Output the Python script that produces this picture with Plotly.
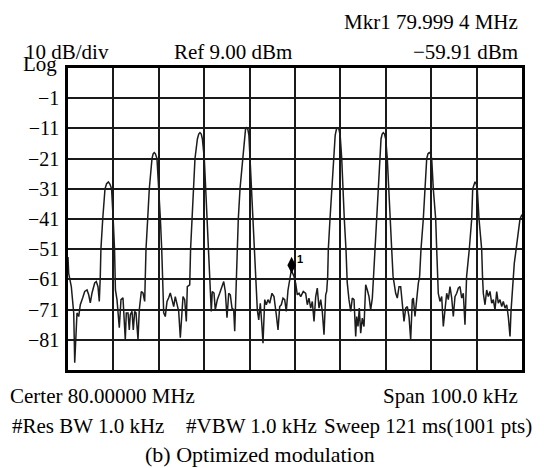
import plotly.graph_objects as go

# Frequency offset from centre (kHz) and level (dBm)
trace_freq_khz = [
    -50.0, -49.85, -49.27, -48.74, -48.52, -48.24, -48.02, -47.64, -47.29, -46.76,
    -46.32, -45.81, -45.44, -45.09, -44.71, -44.12, -43.77, -43.39, -43.11, -42.89,
    -42.75, -42.35, -41.85, -41.5, -41.1, -40.75, -40.4, -40.05, -39.75, -39.55,
    -39.21, -38.70, -38.33, -37.89, -37.60, -37.38, -37.16, -36.78, -36.50, -36.28,
    -35.90, -35.62, -35.31, -35.02, -34.58, -34.30, -33.85, -33.48, -33.11,
    -32.95, -32.82, -32.45, -32.09, -31.5, -31.25, -31.0, -30.75, -30.4, -29.96,
    -29.65, -29.36, -29.1,
    -28.92, -28.57, -28.19, -27.82, -27.47, -27.09, -26.72, -26.37, -26.0, -25.62,
    -25.26, -25.04, -24.67, -24.30, -23.94, -23.72, -23.19,
    -23.0, -22.7, -22.4, -22.03, -21.5, -21.2, -20.93, -20.65, -20.4, -19.98, -19.67,
    -19.4, -19.1, -18.8,
    -18.44, -18.22, -17.84, -17.56, -17.11, -16.59, -16.08, -15.70, -15.35, -14.98,
    -14.60, -14.25, -13.88, -13.50, -13.28, -12.93,
    -12.84, -12.49, -12.11, -11.52, -11.15, -10.9, -10.64, -10.38, -10.15, -9.91,
    -9.54, -9.19, -8.81, -8.6,
    -8.30, -7.99, -7.64, -7.27, -7.05, -6.67, -6.32, -5.95, -5.57, -5.07,
    -4.63, -4.12, -3.74, -3.37, -3.02, -2.64, -2.27, -1.92, -1.54, -1.17,
    -0.81, -0.22, 0.15, 0.51, 0.88, 1.26, 1.83, 2.36, 2.71, 3.08,
    3.46, 3.81, 4.19, 4.56, 4.91, 5.29, 5.66, 6.01, 6.39, 6.76, 6.98,
    7.2, 7.34, 7.71, 8.08, 8.44, 8.85, 9.12, 9.41, 9.68, 9.95, 10.29, 10.51, 10.86,
    11.23, 11.5,
    11.89, 12.27, 12.62, 13.00, 13.37, 13.59, 13.88, 14.16, 14.47, 14.82,
    15.20, 15.57, 15.93, 16.30, 16.67, 17.03,
    17.3, 17.62, 17.99, 18.35, 18.72, 18.95, 19.2, 19.45, 19.72, 19.98, 20.33, 20.7,
    20.93, 21.3, 21.6,
    22.18, 22.53, 22.91, 23.28, 23.63, 24.01, 24.38, 24.74, 25.11, 25.48,
    25.84, 26.06, 26.43, 26.81, 27.16,
    27.45, 27.75, 28.26, 28.63, 29.01, 29.3, 29.58, 29.85, 30.11, 30.46, 30.99, 31.21, 31.4,
    31.56, 31.94, 32.31, 32.67, 33.04, 33.41, 33.77, 34.14, 34.52, 34.87,
    35.24, 35.62, 35.97, 36.34, 36.72, 37.07, 37.44,
    37.8, 38.39, 38.92, 39.14, 39.4, 39.65, 39.9, 40.15, 40.53, 41.12, 41.3,
    41.48, 41.85, 42.22, 42.58, 42.95, 43.33, 43.68, 44.05, 44.43, 44.78,
    45.15, 45.53, 45.88, 46.26, 46.63, 46.98, 47.36, 47.58, 47.95, 48.30,
    48.68, 49.1, 49.56, 50.0,
]
trace_level_dbm = [
    -53.6, -59.0, -63.4, -72.1, -88.6, -81.0, -72.1, -73.3, -69.4, -67.1,
    -65.0, -64.5, -66.1, -68.8, -65.5, -62.2, -61.7, -63.4, -68.3, -60.1,
    -51, -41, -31, -29.3, -28.7, -29.5, -31, -41, -51, -64.5,
    -67.7, -77.0, -67.7, -67.1, -73.3, -81.0, -72.1, -72.1, -77.7, -72.7,
    -71.6, -77.7, -71.6, -72.1, -81.0, -71.1, -65.0, -65.5, -68.3,
    -60, -51, -41, -31, -21, -19.4, -19, -19.4, -21, -31,
    -41, -51, -66,
    -72.1, -73.3, -68.3, -67.1, -65.5, -67.7, -70.0, -66.7, -68.8, -71.6,
    -80.3, -73.3, -66.7, -67.7, -74.9, -63.4, -62.8,
    -51, -41, -31, -21, -14.5, -12.9, -12.4, -12.9, -14.5, -21, -31,
    -41, -51, -62,
    -71.6, -65.0, -65.5, -71.1, -67.7, -65.6, -63.4, -61.7, -65.0, -73.7,
    -65.6, -66.1, -70.5, -71.1, -78.2, -62.3,
    -51, -41, -31, -21, -13.3, -11.3, -10.8, -11.3, -13.3, -21,
    -31, -41, -51, -62,
    -71.1, -74.4, -68.9, -76.6, -82.1, -67.7, -69.4, -67.7, -68.9, -65.6,
    -66.7, -72.7, -77.7, -70.0, -69.4, -67.2, -67.7, -71.6, -64.5, -61.2,
    -57.9, -60.0, -62.3, -66.1, -65.6, -66.7, -65.0, -65.6, -69.4, -67.2,
    -70.5, -68.3, -74.9, -66.7, -63.9, -70.5, -67.7, -71.6, -79.3, -66.1, -65.0,
    -60, -51, -41, -31, -21, -13.3, -11.3, -10.8, -11.3, -13.3, -21, -31, -41,
    -51, -62,
    -67.7, -71.6, -67.2, -67.7, -79.9, -73.3, -76.6, -70.5, -78.8, -73.8,
    -76.6, -62.8, -64.5, -66.7, -71.1, -67.2,
    -60, -51, -41, -31, -21, -14.5, -12.9, -12.4, -12.9, -14.5, -21, -31,
    -41, -51, -60,
    -65.6, -67.2, -63.4, -63.4, -68.9, -74.9, -70.5, -70.0, -73.3, -81.0,
    -67.7, -67.2, -73.3, -67.2, -62.3,
    -60, -51, -41, -31, -21, -19.4, -19, -19.4, -21, -31, -41, -51, -60,
    -65.6, -68.3, -66.7, -76.6, -70.0, -65.6, -67.7, -63.4, -67.2, -73.3,
    -66.7, -65.6, -63.9, -63.4, -67.2, -65.6, -76.0,
    -60, -51, -41, -31, -29.3, -28.7, -29.3, -31, -41, -51, -60,
    -65.6, -69.4, -64.5, -66.7, -65.0, -68.9, -67.7, -71.1, -65.0, -68.9,
    -67.7, -70.0, -68.3, -70.5, -69.4, -73.3, -79.9, -71.6, -61.2, -55.7,
    -51.3, -46, -41, -39.5,
]

# Marker 1 (drawn position on screen)
marker_freq_khz = [-0.75]
marker_level_dbm = [-56.3]
marker_label = "1"

# Axis definitions
x_grid_khz = [-40, -30, -20, -10, 0, 10, 20, 30, 40]
y_tick_vals = [-1, -11, -21, -31, -41, -51, -61, -71, -81]
y_tick_text = ["\u22121", "\u221211", "\u221221", "\u221231", "\u221241",
               "\u221251", "\u221261", "\u221271", "\u221281"]
x_range = [-50, 50]
y_range = [-91, 9]

# Header / footer texts
mkr_text = "Mkr1 79.999 4 MHz"
scale_text = "10 dB/div"
log_text = "Log"
ref_text = "Ref 9.00 dBm"
mkr_level_text = "\u221259.91 dBm"
center_text = "Certer 80.00000 MHz"
span_text = "Span 100.0 kHz"
rbw_text = "#Res BW 1.0 kHz"
vbw_text = "#VBW 1.0 kHz"
sweep_text = "Sweep 121 ms(1001 pts)"
caption_text = "(b) Optimized modulation"

W, H = 549, 468
L, R, T, B = 68, 522, 67.5, 370.5
FONT = "Liberation Serif"


def px(xp):
    return (xp - L) / (R - L)


def py(yp):
    return (B - yp) / (B - T)


fig = go.Figure()
fig.add_trace(go.Scatter(
    x=trace_freq_khz, y=trace_level_dbm, mode="lines",
    line=dict(color="#1c1c1c", width=1.5), hoverinfo="skip", showlegend=False,
))
fig.add_trace(go.Scatter(
    x=marker_freq_khz, y=marker_level_dbm, mode="markers",
    marker=dict(symbol="diamond-tall", size=12, color="#000000"),
    hoverinfo="skip", showlegend=False,
))

ann = []


def text(t, xp, yp, xanchor="left", size=21):
    ann.append(dict(text=t, x=px(xp), y=py(yp), xref="paper", yref="paper",
                    xanchor=xanchor, yanchor="middle", showarrow=False,
                    font=dict(family=FONT, size=size, color="#000000")))


text(mkr_text, 520, 21, "right")
text(scale_text, 23, 51)
text(log_text, 21, 63)
text(ref_text, 172, 51)
text(mkr_level_text, 520, 51, "right")
text(center_text, 8, 397)
text(span_text, 520, 397, "right")
text(rbw_text, 10, 427)
text(vbw_text, 184, 427)
text(sweep_text, 322, 427)
text(caption_text, 260, 455, "center", size=22)

ann.append(dict(text="<b>" + marker_label + "</b>", x=marker_freq_khz[0] + 0.7,
                y=marker_level_dbm[0] + 2.0,
                xref="x", yref="y", xanchor="left", yanchor="middle", showarrow=False,
                font=dict(family="Liberation Sans", size=11, color="#000000")))

fig.update_layout(
    width=W, height=H,
    margin=dict(l=L, r=W - R, t=T, b=H - B, pad=0),
    paper_bgcolor="white", plot_bgcolor="white",
    annotations=ann,
    xaxis=dict(range=x_range, tickvals=x_grid_khz, showticklabels=False, ticks="",
               showgrid=True, gridcolor="#1a1a1a", gridwidth=1.6, zeroline=False,
               showline=True, linecolor="#000000", linewidth=2.5, mirror=True,
               fixedrange=True),
    yaxis=dict(range=y_range, tickvals=y_tick_vals, ticktext=y_tick_text, ticks="",
               ticklabelstandoff=2,
               tickfont=dict(family=FONT, size=20, color="#000000"),
               showgrid=True, gridcolor="#1a1a1a", gridwidth=1.6, zeroline=False,
               showline=True, linecolor="#000000", linewidth=2.5, mirror=True,
               fixedrange=True),
)

fig.write_html(
    "out.html",
    config={"displayModeBar": False},
    post_script="document.body.style.margin='0';document.body.style.overflow='hidden';",
)
